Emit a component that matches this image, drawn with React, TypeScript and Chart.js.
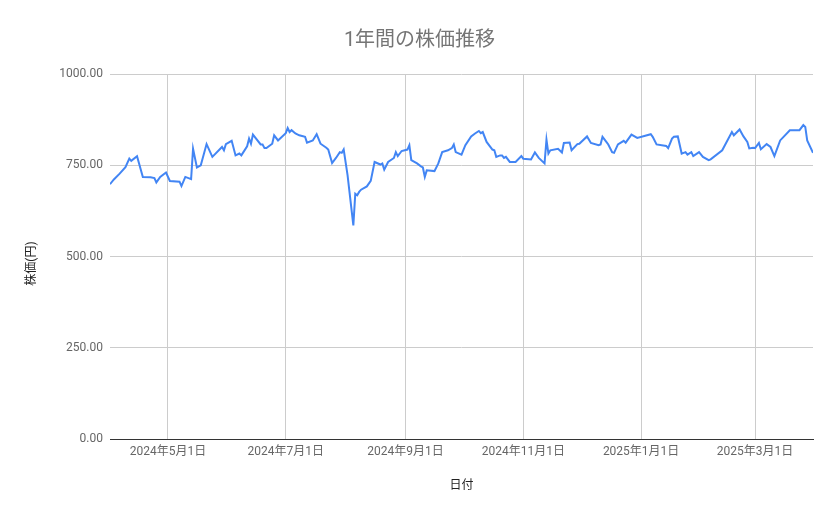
import { useEffect, useRef } from "react";
import { Chart, registerables } from "chart.js";

Chart.register(...registerables);

const FONT = "Roboto, 'Noto Sans CJK JP', sans-serif";

const chartTitle = "1年間の株価推移";
const xAxisTitle = "日付";
const yAxisTitle = "株価(円)";

const dates = [
  "2024-04-01", "2024-04-03", "2024-04-06", "2024-04-09", "2024-04-11", "2024-04-12",
  "2024-04-15", "2024-04-18", "2024-04-22", "2024-04-24", "2024-04-25", "2024-04-27",
  "2024-04-30", "2024-05-02", "2024-05-07", "2024-05-08", "2024-05-10", "2024-05-13",
  "2024-05-14", "2024-05-16", "2024-05-18", "2024-05-21", "2024-05-24", "2024-05-29",
  "2024-05-30", "2024-05-31", "2024-06-03", "2024-06-05", "2024-06-07", "2024-06-08",
  "2024-06-11", "2024-06-12", "2024-06-13", "2024-06-14", "2024-06-18", "2024-06-19",
  "2024-06-20", "2024-06-21", "2024-06-24", "2024-06-25", "2024-06-27", "2024-07-01",
  "2024-07-02", "2024-07-03", "2024-07-04", "2024-07-06", "2024-07-08", "2024-07-11",
  "2024-07-12", "2024-07-15", "2024-07-17", "2024-07-19", "2024-07-22", "2024-07-23",
  "2024-07-25", "2024-07-27", "2024-07-29", "2024-07-30", "2024-07-31", "2024-08-02",
  "2024-08-05", "2024-08-06", "2024-08-07", "2024-08-08", "2024-08-09", "2024-08-12",
  "2024-08-14", "2024-08-16", "2024-08-19", "2024-08-20", "2024-08-21", "2024-08-23",
  "2024-08-26", "2024-08-27", "2024-08-28", "2024-08-30", "2024-09-02", "2024-09-03",
  "2024-09-04", "2024-09-07", "2024-09-09", "2024-09-10", "2024-09-11", "2024-09-12",
  "2024-09-16", "2024-09-18", "2024-09-20", "2024-09-23", "2024-09-25", "2024-09-26",
  "2024-09-27", "2024-09-30", "2024-10-02", "2024-10-05", "2024-10-07", "2024-10-09",
  "2024-10-10", "2024-10-11", "2024-10-13", "2024-10-16", "2024-10-17", "2024-10-18",
  "2024-10-20", "2024-10-21", "2024-10-22", "2024-10-23", "2024-10-25", "2024-10-28",
  "2024-10-31", "2024-11-01", "2024-11-05", "2024-11-07", "2024-11-09", "2024-11-12",
  "2024-11-13", "2024-11-14", "2024-11-15", "2024-11-19", "2024-11-21", "2024-11-22",
  "2024-11-25", "2024-11-26", "2024-11-29", "2024-11-30", "2024-12-04", "2024-12-06",
  "2024-12-10", "2024-12-11", "2024-12-12", "2024-12-14", "2024-12-15", "2024-12-17",
  "2024-12-18", "2024-12-20", "2024-12-23", "2024-12-24", "2024-12-27", "2024-12-30",
  "2025-01-06", "2025-01-07", "2025-01-09", "2025-01-14", "2025-01-15", "2025-01-17",
  "2025-01-18", "2025-01-20", "2025-01-22", "2025-01-24", "2025-01-25", "2025-01-27",
  "2025-01-28", "2025-01-31", "2025-02-02", "2025-02-05", "2025-02-06", "2025-02-12",
  "2025-02-17", "2025-02-18", "2025-02-21", "2025-02-23", "2025-02-25", "2025-02-26",
  "2025-02-28", "2025-03-01", "2025-03-03", "2025-03-04", "2025-03-07", "2025-03-09",
  "2025-03-11", "2025-03-14", "2025-03-19", "2025-03-24", "2025-03-26", "2025-03-27",
  "2025-03-28", "2025-03-31",
];

const prices = [
  698, 711, 727, 745, 768, 762,
  775, 718, 717, 715, 703, 718,
  730, 707, 705, 693, 718, 712,
  795, 744, 750, 808, 773, 800,
  791, 808, 817, 777, 782, 777,
  802, 823, 809, 834, 807, 807,
  797, 797, 809, 832, 818, 838,
  852, 841, 846, 837, 832, 828,
  812, 818, 835, 809, 798, 793,
  756, 770, 786, 784, 793, 723,
  585, 672, 668, 677, 683, 692,
  707, 759, 752, 755, 738, 759,
  770, 786, 775, 789, 793, 805,
  764, 755, 747, 744, 718, 736,
  734, 755, 786, 791, 797, 807,
  786, 779, 805, 829, 837, 844,
  838, 841, 814, 793, 791, 773,
  777, 777, 770, 773, 759, 759,
  775, 768, 766, 785, 770, 755,
  820, 782, 791, 795, 785, 811,
  812, 791, 808, 809, 829, 811,
  805, 807, 828, 814, 807, 786,
  784, 807, 817, 812, 834, 825,
  835, 828, 807, 803, 797, 823,
  828, 829, 782, 786, 779, 786,
  775, 786, 773, 764, 766, 791,
  841, 832, 848, 829, 814, 796,
  798, 797, 811, 794, 808, 800,
  775, 818, 846, 846, 860, 855,
  818, 784,
];

const xTickDates = [
  "2024-05-01", "2024-07-01", "2024-09-01", "2024-11-01", "2025-01-01", "2025-03-01",
];

const yMin = 0;
const yMax = 1000;
const yStep = 250;

function toTs(s: string): number {
  const [y, m, d] = s.split("-").map(Number);
  return Date.UTC(y, m - 1, d);
}

function formatDate(ts: number): string {
  const dt = new Date(ts);
  return `${dt.getUTCFullYear()}年${dt.getUTCMonth() + 1}月${dt.getUTCDate()}日`;
}

const titlesPlugin = {
  id: "titles",
  afterDraw(chart: any) {
    const { ctx, chartArea, width } = chart;
    ctx.save();
    ctx.textAlign = "center";
    ctx.textBaseline = "middle";
    ctx.fillStyle = "#757575";
    ctx.font = `20px ${FONT}`;
    ctx.fillText(chartTitle, width / 2, 41);
    ctx.fillStyle = "#222222";
    ctx.font = `12px ${FONT}`;
    ctx.fillText(xAxisTitle, (chartArea.left + chartArea.right) / 2, chartArea.bottom + 47);
    ctx.translate(32, (chartArea.top + chartArea.bottom) / 2 + 7);
    ctx.rotate(-Math.PI / 2);
    ctx.fillText(yAxisTitle, 0, 0);
    ctx.restore();
  },
};

export default function App() {
  const canvasRef = useRef<HTMLCanvasElement | null>(null);

  useEffect(() => {
    if (!canvasRef.current) return;
    Chart.defaults.font.family = FONT;
    const points = dates.map((d, i) => ({ x: toTs(d), y: prices[i] }));
    const chart = new Chart(canvasRef.current, {
      type: "line",
      data: {
        datasets: [
          {
            label: yAxisTitle,
            data: points,
            borderColor: "#4285f4",
            backgroundColor: "#4285f4",
            borderWidth: 2,
            pointRadius: 0,
            pointHoverRadius: 0,
            tension: 0,
            fill: false,
          },
        ],
      },
      options: {
        responsive: false,
        animation: false,
        layout: { padding: { left: 0, right: 26, top: 74, bottom: 0 } },
        plugins: {
          legend: { display: false },
          tooltip: { enabled: false },
          title: { display: false },
        },
        scales: {
          x: {
            type: "linear",
            min: toTs(dates[0]),
            max: toTs(dates[dates.length - 1]),
            afterBuildTicks: (scale: any) => {
              scale.ticks = xTickDates.map((d) => ({ value: toTs(d) }));
            },
            afterFit: (scale: any) => {
              scale.height = 80;
            },
            ticks: {
              autoSkip: false,
              maxRotation: 0,
              padding: 6,
              color: "#666666",
              font: { family: FONT, size: 12 },
              callback: (v: any) => formatDate(Number(v)),
            },
            grid: { color: "#cccccc", drawTicks: false },
            border: { display: true, color: "#333333", width: 1 },
          },
          y: {
            min: yMin,
            max: yMax,
            afterFit: (scale: any) => {
              scale.width = 110;
            },
            ticks: {
              stepSize: yStep,
              padding: 7,
              color: "#666666",
              font: { family: FONT, size: 12 },
              callback: (v: any) => Number(v).toFixed(2),
            },
            grid: {
              color: (ctx: any) => (ctx.tick && ctx.tick.value === 0 ? "rgba(0,0,0,0)" : "#cccccc"),
              drawTicks: false,
            },
            border: { display: false },
          },
        },
      },
      plugins: [titlesPlugin],
    });
    return () => chart.destroy();
  }, []);

  return (
    <div style={{ position: "fixed", left: 0, top: 0, width: 839, height: 519, background: "#ffffff" }}>
      <canvas ref={canvasRef} width={839} height={519} style={{ display: "block" }} />
    </div>
  );
}
